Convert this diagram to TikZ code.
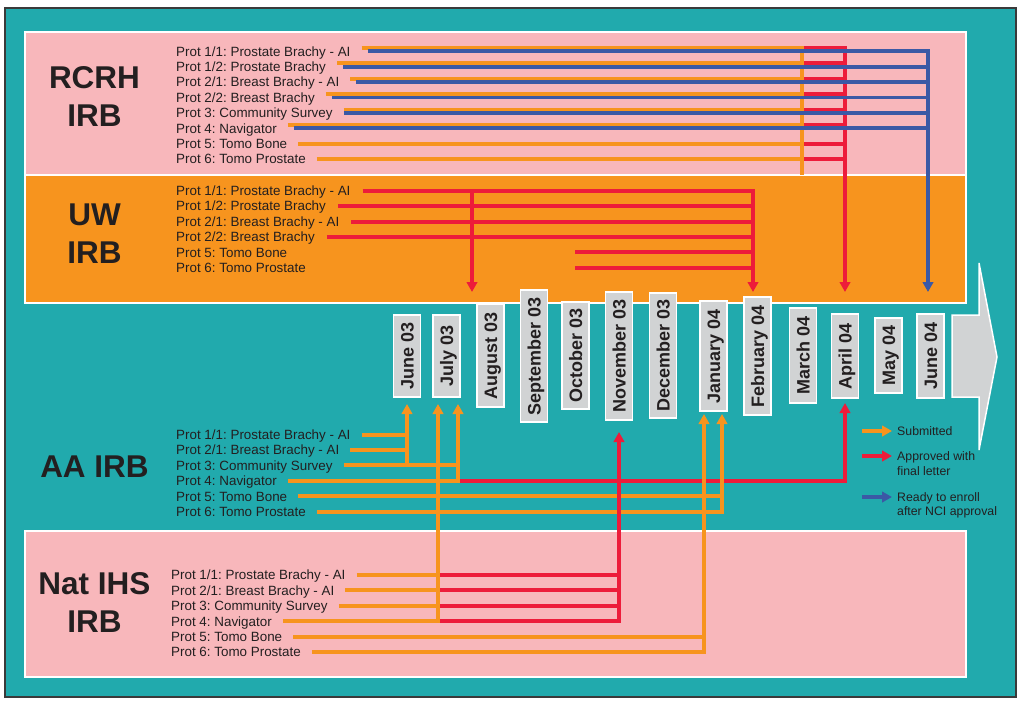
\documentclass[tikz,border=0pt]{standalone}
\usepackage{fontspec}
\setmainfont{Liberation Sans}
\usetikzlibrary{arrows.meta}
\definecolor{bgteal}{HTML}{21AAAD}
\definecolor{pinkbox}{HTML}{F8B7BB}
\definecolor{orgbox}{HTML}{F7941E}
\definecolor{org}{HTML}{F7941E}
\definecolor{rd}{HTML}{ED1C3A}
\definecolor{bl}{HTML}{3B59A5}
\definecolor{mgray}{HTML}{D1D3D4}
\definecolor{txt}{HTML}{231F20}
\definecolor{frame}{HTML}{3A3A3A}
\frenchspacing
\begin{document}
\frenchspacing
\begin{tikzpicture}[x=1pt,y=-1pt,
  prot/.style={anchor=west, inner sep=0pt, text=txt, font=\fontsize{13.4}{15}\selectfont\frenchspacing, text height=12.4pt, text depth=2.8pt},
  big/.style={align=center, inner sep=0pt, text=txt, font=\fontsize{31.5}{38}\selectfont\bfseries},
  month/.style={draw=white, line width=1.6pt, fill=mgray, rotate=90, text=txt, font=\fontsize{18}{18}\selectfont\bfseries, inner xsep=0pt, inner ysep=0pt, minimum height=27pt, text height=13pt, text depth=0pt},
  leg/.style={anchor=west, inner sep=0pt, text=txt, font=\fontsize{12.3}{15}\selectfont, text height=8.8pt, text depth=0pt},
  oline/.style={draw=org, line width=3.9pt},
  rline/.style={draw=rd, line width=3.9pt},
  bline/.style={draw=bl, line width=3.9pt},
  arr/.style={-{Triangle[width=10.5pt,length=10pt]}},
  box/.style={draw=white, line width=2pt}
]
\useasboundingbox (0,0) rectangle (1021,702);
\fill[white] (0,0) rectangle (1021,702);
\draw[draw=frame, line width=2pt, fill=bgteal] (5,8) rectangle (1016,697);

% panels
\path[box, fill=pinkbox] (25,32) rectangle (966,175);
\path[box, fill=orgbox] (25,175) rectangle (966,303);
\path[box, fill=pinkbox] (25,531) rectangle (966,677);

% big arrow
\draw[draw=white, line width=1.5pt, fill=mgray] (952,315) -- (979,315) -- (979,263) -- (997,357) -- (979,450) -- (979,397) -- (952,397) -- cycle;

% group labels
\node[big] (rcrh) at (94.5,96.5) {RCRH\\IRB};
\node[big] (uw) at (94.5,234) {UW\\IRB};
\node[big] (aa) at (94.5,467) {AA IRB};
\node[big] (nat) at (94.5,602.5) {Nat IHS\\IRB};

% RCRH protocols
\node[prot] (r1) at (176,51.3) {Prot 1/1: Prostate Brachy - AI};
\node[prot] (r2) at (176,66.7) {Prot 1/2: Prostate Brachy};
\node[prot] (r3) at (176,82.1) {Prot 2/1: Breast Brachy - AI};
\node[prot] (r4) at (176,97.5) {Prot 2/2: Breast Brachy};
\node[prot] (r5) at (176,112.9) {Prot 3: Community Survey};
\node[prot] (r6) at (176,128.3) {Prot 4: Navigator};
\node[prot] (r7) at (176,143.7) {Prot 5: Tomo Bone};
\node[prot] (r8) at (176,159.1) {Prot 6: Tomo Prostate};

% UW protocols
\node[prot] (u1) at (176,190.7) {Prot 1/1: Prostate Brachy - AI};
\node[prot] (u2) at (176,206.1) {Prot 1/2: Prostate Brachy};
\node[prot] (u3) at (176,221.6) {Prot 2/1: Breast Brachy - AI};
\node[prot] (u4) at (176,237.0) {Prot 2/2: Breast Brachy};
\node[prot] (u5) at (176,252.4) {Prot 5: Tomo Bone};
\node[prot] (u6) at (176,267.8) {Prot 6: Tomo Prostate};

% AA protocols
\node[prot] (a1) at (176,434.6) {Prot 1/1: Prostate Brachy - AI};
\node[prot] (a2) at (176,450.0) {Prot 2/1: Breast Brachy - AI};
\node[prot] (a3) at (176,465.4) {Prot 3: Community Survey};
\node[prot] (a4) at (176,480.8) {Prot 4: Navigator};
\node[prot] (a5) at (176,496.2) {Prot 5: Tomo Bone};
\node[prot] (a6) at (176,511.6) {Prot 6: Tomo Prostate};

% Nat IHS protocols
\node[prot] (n1) at (171,575.0) {Prot 1/1: Prostate Brachy - AI};
\node[prot] (n2) at (171,590.4) {Prot 2/1: Breast Brachy - AI};
\node[prot] (n3) at (171,605.8) {Prot 3: Community Survey};
\node[prot] (n4) at (171,621.2) {Prot 4: Navigator};
\node[prot] (n5) at (171,636.6) {Prot 5: Tomo Bone};
\node[prot] (n6) at (171,652.0) {Prot 6: Tomo Prostate};

% junction / tip coordinates
\coordinate (marR) at (802,175);
\coordinate (aprT) at (845,292);
\coordinate (jun4T) at (928,292);
\coordinate (augT) at (472,292);
\coordinate (febT) at (753,292);
\coordinate (junB) at (407,404);
\coordinate (julBa) at (438,404);
\coordinate (julBb) at (458,404);
\coordinate (novB) at (619,432);
\coordinate (janBa) at (704,414);
\coordinate (janBb) at (722,414);
\coordinate (aprB) at (845,403);

% RCRH line starts
\foreach \i in {1,2,3,4,5,6}{
  \coordinate (r\i o) at ([xshift=11pt,yshift=3.3pt]r\i.east);
  \coordinate (r\i b) at ([xshift=17pt]r\i.east);
}
\coordinate (r5b) at ([xshift=11pt]r5.east);
\coordinate (r7o) at ([xshift=11pt]r7.east);
\coordinate (r8o) at ([xshift=11pt]r8.east);

% RCRH red
\draw[rline,arr] (r1o -| marR) -| (aprT);
\foreach \i in {2,3,4,5,6,7,8}{\draw[rline] (r\i o -| marR) -- (r\i o -| aprT);}
% RCRH orange
\foreach \i in {1,2,3,4,5,6,7,8}{\draw[oline] (r\i o) -| (marR);}
% RCRH blue
\draw[bline,arr] (r1b) -| (jun4T);
\foreach \i in {2,3,4,5,6}{\draw[bline] (r\i b) -- (r\i b -| jun4T);}

% UW
\foreach \i in {1,2,3,4}{\coordinate (u\i s) at ([xshift=12pt]u\i.east);}
\coordinate (u5s) at (575,252.4);
\coordinate (u6s) at (575,267.8);
\draw[rline,arr] (u1s) -| (febT);
\foreach \i in {2,3,4,5,6}{\draw[rline] (u\i s) -- (u\i s -| febT);}
\draw[rline,arr] (u1s -| augT) -- (augT);

% AA
\foreach \i in {1,2,3,4,5,6}{\coordinate (a\i s) at ([xshift=11pt]a\i.east);}
\draw[rline,arr] (a4s -| julBb) -| (aprB);
\draw[oline,arr] (a4s) -| (julBb);
\draw[oline] (a3s) -- (a3s -| julBb);
\draw[oline,arr] (a3s -| junB) -- (junB);
\draw[oline] (a1s) -- (a1s -| junB);
\draw[oline] (a2s) -- (a2s -| junB);
\draw[oline,arr] (a6s) -| (janBb);
\draw[oline] (a5s) -- (a5s -| janBb);

% Nat IHS
\foreach \i in {1,2,3,4,5,6}{\coordinate (n\i s) at ([xshift=11pt]n\i.east);}
\draw[rline,arr] (n4s -| julBa) -| (novB);
\foreach \i in {1,2,3}{\draw[rline] (n\i s -| julBa) -- (n\i s -| novB);}
\draw[oline,arr] (n4s) -| (julBa);
\foreach \i in {1,2,3}{\draw[oline] (n\i s) -- (n\i s -| julBa);}
\draw[oline,arr] (n6s) -| (janBa);
\draw[oline] (n5s) -- (n5s -| janBa);

% months
\node[month, minimum width=82pt] (m1) at (407,356) {June 03};
\node[month, minimum width=82pt] (m2) at (446.5,356) {July 03};
\node[month, minimum width=103pt] (m3) at (490.5,355.5) {August 03};
\node[month, minimum width=132pt] (m4) at (534,356) {September 03};
\node[month, minimum width=107pt] (m5) at (575.5,355.5) {October 03};
\node[month, minimum width=128pt] (m6) at (619,356) {November 03};
\node[month, minimum width=125pt] (m7) at (663,355.5) {December 03};
\node[month, minimum width=110pt] (m8) at (713.5,356) {January 04};
\node[month, minimum width=118pt] (m9) at (757.5,356) {February 04};
\node[month, minimum width=95pt] (m10) at (803,355.5) {March 04};
\node[month, minimum width=84pt] (m11) at (845,356) {April 04};
\node[month, minimum width=75pt] (m12) at (888.5,355.5) {May 04};
\node[month, minimum width=84pt] (m13) at (930.5,356) {June 04};

% legend
\node[leg] (lg1) at (897,431) {Submitted};
\node[leg] (lg2) at (897,456) {Approved with};
\node[leg] (lg2b) at (897,471) {final letter};
\node[leg] (lg3) at (897,497) {Ready to enroll};
\node[leg] (lg3b) at (897,511.5) {after NCI approval};
\draw[oline,arr] ([xshift=-35pt]lg1.west) -- ([xshift=-5pt]lg1.west);
\draw[rline,arr] ([xshift=-35pt]lg2.west) -- ([xshift=-5pt]lg2.west);
\draw[bline,arr] ([xshift=-35pt]lg3.west) -- ([xshift=-5pt]lg3.west);
\end{tikzpicture}
\end{document}
